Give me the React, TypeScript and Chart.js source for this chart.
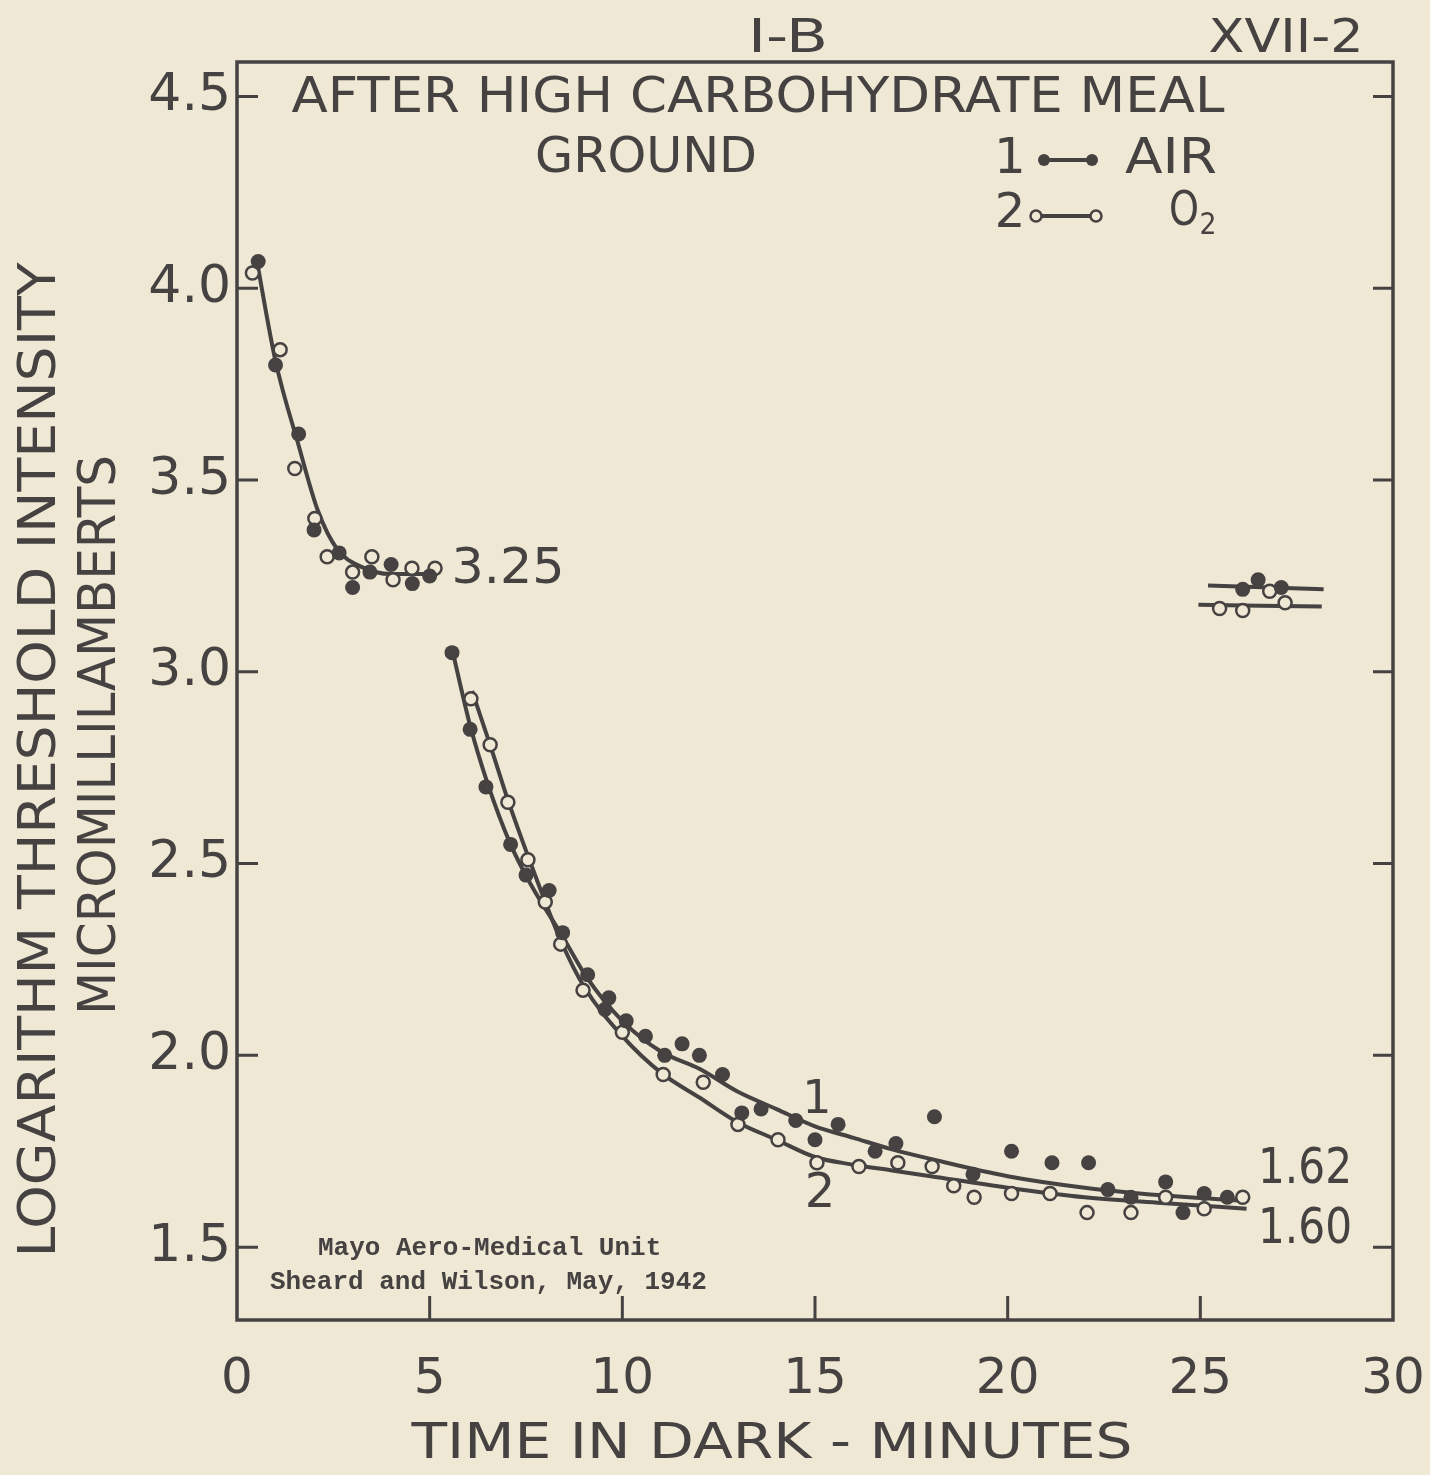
import React, { useEffect, useRef } from "react";
import { Chart, registerables } from "chart.js";

Chart.register(...registerables);

const BG = "rgb(238, 232, 213)";
const INK = "rgb(70, 66, 66)";

// axis ticks
const xTicks = [0, 5, 10, 15, 20, 25, 30];
const xTickLabels = ["0", "5", "10", "15", "20", "25", "30"];
const yTicks = [1.5, 2.0, 2.5, 3.0, 3.5, 4.0, 4.5];
const yTickLabels = ["1.5", "2.0", "2.5", "3.0", "3.5", "4.0", "4.5"];

// Series 1 — AIR (filled circles)
const airEarly: [number, number][] = [
  [0.55, 4.07], [1.0, 3.8], [1.6, 3.62], [2.0, 3.37], [2.65, 3.31], [3.0, 3.22],
  [3.45, 3.26], [4.0, 3.28], [4.55, 3.23], [5.0, 3.25],
];
const airLate: [number, number][] = [
  [5.58, 3.05], [6.05, 2.85], [6.46, 2.7], [7.1, 2.55], [7.5, 2.47], [8.1, 2.43],
  [8.45, 2.32], [9.1, 2.21], [9.55, 2.12], [9.65, 2.15], [10.1, 2.09], [10.6, 2.05],
  [11.1, 2.0], [11.55, 2.03], [12.0, 2.0], [12.6, 1.95], [13.1, 1.85], [13.6, 1.86],
  [14.5, 1.83], [15.0, 1.78], [15.6, 1.82], [16.56, 1.75], [17.1, 1.77], [18.1, 1.84],
  [19.1, 1.69], [20.1, 1.75], [21.15, 1.72], [22.1, 1.72], [22.6, 1.65], [23.2, 1.63],
  [24.1, 1.67], [24.55, 1.59], [25.1, 1.64], [25.7, 1.63],
];
const airFinal: [number, number][] = [[26.1, 3.215], [26.5, 3.24], [27.1, 3.22]];

// Series 2 — O2 (open circles)
const o2Early: [number, number][] = [
  [0.4, 4.04], [1.12, 3.84], [1.5, 3.53], [2.02, 3.4], [2.34, 3.3], [3.0, 3.26],
  [3.5, 3.3], [4.05, 3.24], [4.54, 3.27], [5.14, 3.27],
];
const o2Late: [number, number][] = [
  [6.07, 2.93], [6.57, 2.81], [7.03, 2.66], [7.55, 2.51], [8.0, 2.4], [8.4, 2.29],
  [8.98, 2.17], [10.0, 2.06], [11.06, 1.95], [12.1, 1.93], [13.0, 1.82], [14.04, 1.78],
  [15.05, 1.72], [16.14, 1.71], [17.15, 1.72], [18.04, 1.71], [18.6, 1.66], [19.13, 1.63],
  [20.1, 1.64], [21.1, 1.64], [22.06, 1.59], [23.2, 1.59], [24.1, 1.63], [25.1, 1.6],
  [26.1, 1.63],
];
const o2Final: [number, number][] = [[25.5, 3.165], [26.1, 3.16], [26.8, 3.21], [27.2, 3.18]];

// Hand-drawn fitted curves
const curveEarly: [number, number][] = [
  [0.5, 4.08], [1.0, 3.81], [1.6, 3.59], [2.1, 3.42], [2.6, 3.32], [3.2, 3.275],
  [4.0, 3.255], [5.2, 3.255],
];
const curveAir: [number, number][] = [
  [5.58, 3.06], [6.05, 2.86], [6.5, 2.71], [7.1, 2.55], [7.6, 2.45], [8.45, 2.31],
  [9.1, 2.2], [10.0, 2.09], [11.0, 2.01], [12.0, 1.965], [13.0, 1.905], [14.0, 1.86],
  [15.0, 1.815], [16.0, 1.785], [17.0, 1.755], [18.0, 1.73], [20.0, 1.685], [22.0, 1.655],
  [24.0, 1.635], [26.2, 1.62],
];
const curveO2: [number, number][] = [
  [6.1, 2.95], [6.6, 2.8], [7.05, 2.66], [7.55, 2.52], [8.4, 2.3], [9.0, 2.18],
  [10.0, 2.05], [11.0, 1.955], [12.0, 1.89], [13.0, 1.825], [14.0, 1.78], [15.0, 1.735],
  [16.0, 1.715], [17.0, 1.7], [18.0, 1.685], [20.0, 1.655], [22.0, 1.63], [24.0, 1.615],
  [26.2, 1.6],
];
const flatAir: [number, number][] = [[25.2, 3.225], [28.2, 3.215]];
const flatO2: [number, number][] = [[24.95, 3.175], [28.15, 3.17]];

const toXY = (a: [number, number][]) => a.map(([x, y]) => ({ x, y }));

const FONT = "'DejaVu Sans'";

function fitText(
  ctx: CanvasRenderingContext2D,
  text: string,
  cx: number,
  cy: number,
  w: number | null,
  size: number,
  rot = 0
) {
  ctx.save();
  ctx.font = `${size}px ${FONT}`;
  const m = ctx.measureText(text).width;
  const sx = w ? w / m : 1;
  ctx.translate(cx, cy);
  if (rot) ctx.rotate(rot);
  ctx.scale(sx, 1);
  ctx.textAlign = "center";
  ctx.textBaseline = "middle";
  ctx.fillStyle = INK;
  ctx.fillText(text, 0, 0);
  ctx.restore();
}

const decorPlugin = {
  id: "decor",
  beforeDraw(chart: any) {
    const ctx = chart.ctx as CanvasRenderingContext2D;
    ctx.save();
    ctx.fillStyle = BG;
    ctx.fillRect(0, 0, chart.width, chart.height);
    ctx.restore();
  },
  afterDraw(chart: any) {
    const ctx = chart.ctx as CanvasRenderingContext2D;
    const { left, right, top, bottom } = chart.chartArea;
    const xs = chart.scales.x;
    const ys = chart.scales.y;
    ctx.save();
    ctx.strokeStyle = INK;
    ctx.lineWidth = 3.5;
    ctx.strokeRect(left, top, right - left, bottom - top);
    ctx.lineWidth = 3;
    ctx.beginPath();
    yTicks.forEach((v) => {
      const py = ys.getPixelForValue(v);
      ctx.moveTo(left, py);
      ctx.lineTo(left + 21, py);
      ctx.moveTo(right, py);
      ctx.lineTo(right - 20, py);
    });
    xTicks.slice(1, -1).forEach((v) => {
      const px = xs.getPixelForValue(v);
      ctx.moveTo(px, bottom);
      ctx.lineTo(px, bottom - 24);
    });
    ctx.stroke();
    ctx.restore();

    // headings
    fitText(ctx, "I-B", 788, 40, 80, 46);
    fitText(ctx, "XVII-2", 1286, 40, 155, 46);
    fitText(ctx, "AFTER HIGH CARBOHYDRATE MEAL", 758, 99, 933, 50);
    fitText(ctx, "GROUND", 646, 159, 222, 50);

    // legend
    fitText(ctx, "1", 1010, 160, null, 50);
    fitText(ctx, "AIR", 1171, 160, 92, 50);
    fitText(ctx, "2", 1010, 215, null, 48);
    fitText(ctx, "O", 1184, 213, 30, 48);
    fitText(ctx, "2", 1208, 226, 17, 30);
    ctx.save();
    ctx.strokeStyle = INK;
    ctx.lineWidth = 4;
    ctx.beginPath();
    ctx.moveTo(1042, 160);
    ctx.lineTo(1094, 160);
    ctx.moveTo(1040, 216);
    ctx.lineTo(1094, 216);
    ctx.stroke();
    ctx.fillStyle = INK;
    [1044, 1092].forEach((x) => {
      ctx.beginPath();
      ctx.arc(x, 160, 6, 0, Math.PI * 2);
      ctx.fill();
    });
    ctx.lineWidth = 2.5;
    ctx.fillStyle = BG;
    [1036, 1096].forEach((x) => {
      ctx.beginPath();
      ctx.arc(x, 216, 5.5, 0, Math.PI * 2);
      ctx.fill();
      ctx.stroke();
    });
    ctx.restore();

    // value annotations
    fitText(ctx, "3.25", 508, 570, 113, 50);
    fitText(ctx, "1.62", 1305, 1170, 94, 50);
    fitText(ctx, "1.60", 1305, 1230, 94, 50);
    fitText(ctx, "1", 817, 1101, null, 46);
    fitText(ctx, "2", 820, 1195, null, 48);

    // axis titles
    fitText(ctx, "LOGARITHM THRESHOLD INTENSITY", 41, 760, 995, 52, -Math.PI / 2);
    fitText(ctx, "MICROMILLILAMBERTS", 101, 735, 560, 52, -Math.PI / 2);
    fitText(ctx, "TIME IN DARK - MINUTES", 772, 1445, 721, 50);

    // footer (typewritten)
    ctx.save();
    ctx.fillStyle = INK;
    ctx.font = "bold 26px 'Liberation Mono'";
    ctx.textBaseline = "middle";
    ctx.textAlign = "left";
    ctx.fillText("Mayo Aero-Medical Unit", 318, 1248);
    ctx.fillText("Sheard and Wilson, May, 1942", 270, 1282);
    ctx.restore();
  },
};

export default function App() {
  const ref = useRef<HTMLCanvasElement | null>(null);

  useEffect(() => {
    document.body.style.margin = "0";
    const canvas = ref.current!;
    const filled = {
      showLine: false,
      pointRadius: 7.5,
      pointBackgroundColor: INK,
      pointBorderColor: INK,
      pointBorderWidth: 0,
    };
    const open = {
      showLine: false,
      pointRadius: 6.5,
      pointBackgroundColor: BG,
      pointBorderColor: INK,
      pointBorderWidth: 2.5,
    };
    const curve = {
      showLine: true,
      pointRadius: 0,
      borderColor: INK,
      borderWidth: 4,
      cubicInterpolationMode: "monotone",
      fill: false,
    };
    const chart = new Chart(canvas, {
      type: "scatter",
      data: {
        datasets: [
          { label: "AIR", data: toXY(airEarly), ...filled },
          { label: "AIR late", data: toXY(airLate), ...filled },
          { label: "AIR final", data: toXY(airFinal), ...filled },
          { label: "O2", data: toXY(o2Early), ...open },
          { label: "O2 late", data: toXY(o2Late), ...open },
          { label: "O2 final", data: toXY(o2Final), ...open },
          { label: "curve early", data: toXY(curveEarly), ...curve },
          { label: "curve 1", data: toXY(curveAir), ...curve },
          { label: "curve 2", data: toXY(curveO2), ...curve },
          { label: "flat 1", data: toXY(flatAir), ...curve },
          { label: "flat 2", data: toXY(flatO2), ...curve },
        ] as any,
      },
      options: {
        animation: false,
        responsive: false,
        events: [],
        layout: { padding: { left: 0, top: 62, right: 37, bottom: 0 } },
        plugins: { legend: { display: false }, tooltip: { enabled: false } },
        scales: {
          x: {
            type: "linear",
            min: 0,
            max: 30,
            grid: { display: false, drawTicks: false },
            border: { display: false },
            afterBuildTicks: (s: any) => {
              s.ticks = xTicks.map((v) => ({ value: v }));
            },
            afterFit: (s: any) => {
              s.height = 155;
              s.paddingLeft = 0;
              s.paddingRight = 0;
            },
            ticks: {
              padding: 30,
              color: INK,
              maxRotation: 0,
              font: { family: "DejaVu Sans", size: 50 },
              callback: (v: any) => {
                const i = xTicks.indexOf(Number(v));
                return i >= 0 ? xTickLabels[i] : "";
              },
            },
          },
          y: {
            type: "linear",
            min: 1.31,
            max: 4.59,
            grid: { display: false, drawTicks: false },
            border: { display: false },
            afterBuildTicks: (s: any) => {
              s.ticks = yTicks.map((v) => ({ value: v }));
            },
            afterFit: (s: any) => {
              s.width = 237;
              s.paddingTop = 0;
              s.paddingBottom = 0;
            },
            ticks: {
              padding: 6,
              color: INK,
              font: { family: "DejaVu Sans", size: 52 },
              callback: (v: any) => {
                const i = yTicks.findIndex((t) => Math.abs(t - Number(v)) < 1e-6);
                return i >= 0 ? yTickLabels[i] : "";
              },
            },
          },
        },
      } as any,
      plugins: [decorPlugin],
    });
    return () => chart.destroy();
  }, []);

  return (
    <div style={{ position: "absolute", left: 0, top: 0, width: 1430, height: 1475, background: BG }}>
      <canvas ref={ref} width={1430} height={1475} style={{ width: 1430, height: 1475, display: "block" }} />
    </div>
  );
}
